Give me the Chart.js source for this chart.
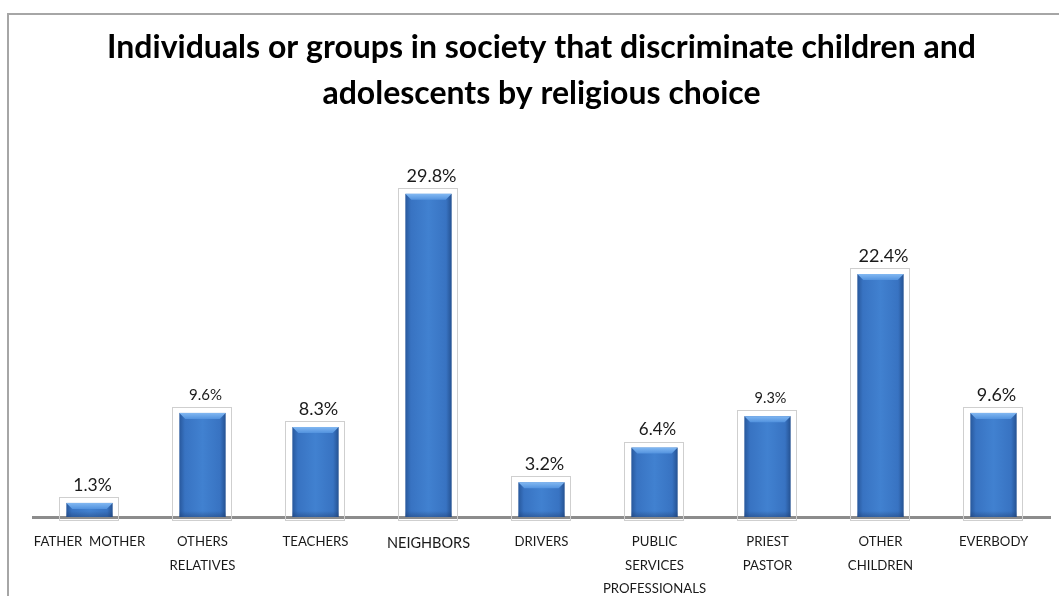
<!DOCTYPE html>
<html>
<head>
<meta charset="utf-8">
<script src="https://cdn.jsdelivr.net/npm/chart.js@4.4.1/dist/chart.umd.min.js"></script>
<style>
  html, body { margin: 0; padding: 0; background: #ffffff; }
  #wrap { position: relative; width: 1059px; height: 596px; overflow: hidden; }
  #frame { position: absolute; left: 7px; top: 13px; width: 1100px; height: 700px;
           border-top: 2px solid #a6a6a6; border-left: 2px solid #a6a6a6; }
  #c { position: absolute; left: 0; top: 0; }
</style>
</head>
<body>
<div id="wrap">
  <div id="frame"></div>
  <canvas id="c" width="1059" height="596"></canvas>
</div>
<script>
// Categories (multi-line labels) and the share of answers for each group, in %
const categories = [
  ["FATHER  MOTHER"],
  ["OTHERS", "RELATIVES"],
  ["TEACHERS"],
  ["NEIGHBORS"],
  ["DRIVERS"],
  ["PUBLIC", "SERVICES", "PROFESSIONALS"],
  ["PRIEST", "PASTOR"],
  ["OTHER", "CHILDREN"],
  ["EVERBODY"]
];
const percentages = [1.3, 9.6, 8.3, 29.8, 3.2, 6.4, 9.3, 22.4, 9.6];
const valueLabels = ["1.3%", "9.6%", "8.3%", "29.8%", "3.2%", "6.4%", "9.3%", "22.4%", "9.6%"];
const titleLines = [
  "Individuals or groups in society that discriminate children and",
  "adolescents by religious choice"
];

// Per-label font sizes for the value labels
const valueFontSizes = [17.5, 15, 18, 18, 18, 17, 14.5, 18, 18];
const FONT = "Lato, 'Open Sans', sans-serif";

// Draws the thin outline box around each bar, the bevelled blue fill and the value label
const bevelBars = {
  id: 'bevelBars',
  afterDatasetsDraw(chart) {
    const ctx = chart.ctx;
    const meta = chart.getDatasetMeta(0);
    meta.data.forEach((bar, i) => {
      const p = bar.getProps(['x', 'y', 'base', 'width'], true);
      const l = p.x - p.width / 2, r = p.x + p.width / 2;
      const top = p.y, bot = p.base;
      ctx.save();
      // outline box
      ctx.strokeStyle = '#cfcfcf';
      ctx.lineWidth = 1;
      ctx.strokeRect(Math.round(l - 7) + 0.5, Math.round(top - 6) + 0.5,
                     Math.round(p.width + 13), Math.round(bot - top + 9));
      // body with darker sides
      const g = ctx.createLinearGradient(l, 0, r, 0);
      g.addColorStop(0, '#28589c');
      g.addColorStop(0.12, '#3873c2');
      g.addColorStop(0.5, '#4181d0');
      g.addColorStop(0.88, '#3873c2');
      g.addColorStop(1, '#255292');
      ctx.fillStyle = g;
      ctx.fillRect(l, top, p.width, bot - top);
      // darker bottom bevel
      const h = bot - top;
      const bev = Math.min(6, h / 2);
      const gb = ctx.createLinearGradient(0, bot - bev, 0, bot);
      gb.addColorStop(0, 'rgba(30,60,110,0)');
      gb.addColorStop(1, 'rgba(30,60,110,0.45)');
      ctx.fillStyle = gb;
      ctx.fillRect(l, bot - bev, p.width, bev);
      // lighter top bevel
      ctx.beginPath();
      ctx.moveTo(l, top);
      ctx.lineTo(r, top);
      ctx.lineTo(r - bev, top + bev);
      ctx.lineTo(l + bev, top + bev);
      ctx.closePath();
      const gt = ctx.createLinearGradient(0, top, 0, top + bev);
      gt.addColorStop(0, '#82b8f2');
      gt.addColorStop(1, '#5292de');
      ctx.fillStyle = gt;
      ctx.fill();
      // value label
      ctx.fillStyle = '#1a1a1a';
      ctx.font = valueFontSizes[i] + 'px ' + FONT;
      ctx.textAlign = 'center';
      ctx.textBaseline = 'middle';
      ctx.fillText(valueLabels[i], p.x + 3, top - 18);
      ctx.restore();
    });
  }
};

new Chart(document.getElementById('c'), {
  type: 'bar',
  data: {
    labels: categories,
    datasets: [{
      data: percentages,
      backgroundColor: 'rgba(0,0,0,0)',
      borderWidth: 0,
      categoryPercentage: 1,
      barPercentage: 0.41
    }]
  },
  options: {
    responsive: false,
    animation: false,
    layout: { padding: { left: 33, right: 9, top: 0, bottom: 0 } },
    plugins: {
      legend: { display: false },
      tooltip: { enabled: false },
      title: {
        display: true,
        text: titleLines,
        color: '#000000',
        font: { family: FONT, size: 32, weight: 'bold', lineHeight: 1.44 },
        padding: { top: 25, bottom: 42 }
      }
    },
    scales: {
      x: {
        grid: { display: false, drawTicks: false },
        border: { display: true, color: '#8c8c8c', width: 3 },
        ticks: {
          color: '#1a1a1a',
          font: (ctx) => ({ family: FONT, size: ctx.index === 3 ? 14.5 : 13.2, lineHeight: 1.78 }),
          padding: 13,
          maxRotation: 0,
          autoSkip: false
        },
        afterFit(scale) { scale.height = 79; }
      },
      y: {
        display: false,
        min: 0,
        max: 33
      }
    }
  },
  plugins: [bevelBars]
});
</script>
</body>
</html>
